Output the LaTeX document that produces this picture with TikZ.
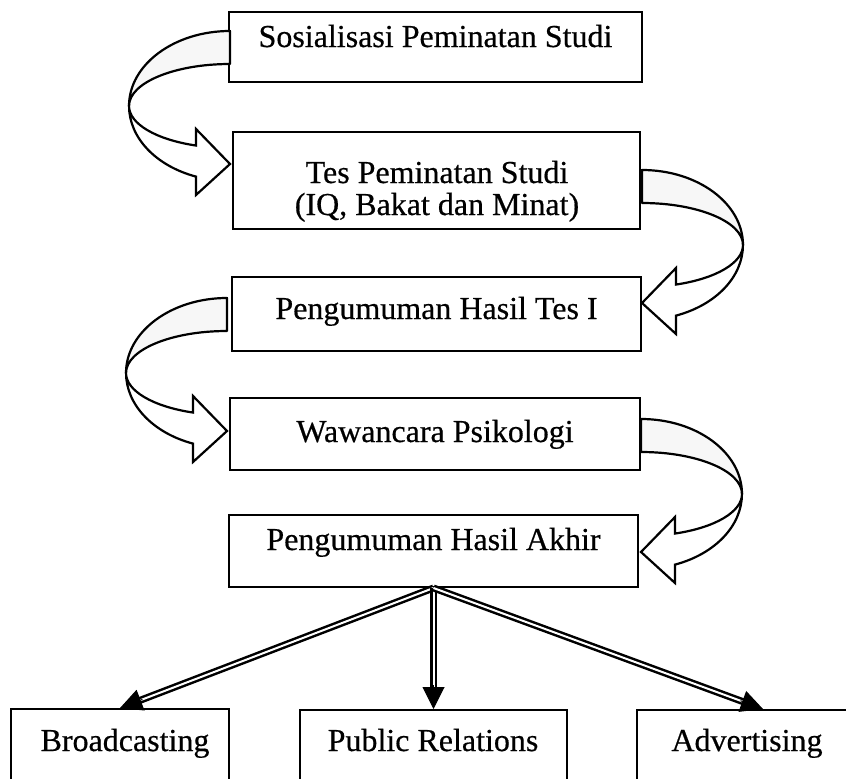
\documentclass[tikz,border=0pt]{standalone}
\usepackage{fontspec}
\setmainfont{Liberation Serif}[FakeBold=0.5]
\usetikzlibrary{arrows.meta,calc}
\begin{document}
\begin{tikzpicture}[x=1pt,y=-1pt,
  box/.style={draw, line width=2pt, inner sep=0pt},
  txt/.style={font=\fontsize{32}{34}\selectfont, inner sep=0pt, anchor=base},
  back/.style={fill=black!3, draw, line width=2.2pt, line join=round},
  front/.style={fill=white, draw, line width=2.2pt, line join=miter},
  shaft/.style={line width=2.5pt, double distance=2pt, double=white},
  headtip/.style={-{Triangle[length=22pt,width=22pt]}, line width=1pt},
  curvedarrow/.pic={
    \path[back] (0,-133) arc[start angle=-90,end angle=-180,x radius=101,y radius=75]
       arc[start angle=180,end angle=270,x radius=101,y radius=42] -- cycle;
    \path[front] (-101,-58) arc[start angle=180,end angle=109.7,x radius=101,y radius=42]
       -- (-34,-35) -- (0,0) -- (-34,31) -- (-34,12.6)
       arc[start angle=109.7,end angle=180,x radius=101,y radius=75] -- cycle;
  }
]
\useasboundingbox (0,0) rectangle (846,779);
\clip (0,0) rectangle (846,779);

% boxes
\node[box, minimum width=413, minimum height=70] (b1) at (435.5,47) {};
\node[box, minimum width=407, minimum height=97] (b2) at (436.5,180.5) {};
\node[box, minimum width=409, minimum height=74] (b3) at (436.5,314) {};
\node[box, minimum width=410, minimum height=72] (b4) at (435,434) {};
\node[box, minimum width=409, minimum height=72] (b5) at (433.5,551) {};
\node[box, minimum width=218, minimum height=120] (bb) at (120,769) {};
\node[box, minimum width=267, minimum height=120] (pr) at (433.5,770) {};
\node[box, minimum width=252, minimum height=120] (ad) at (763,770) {};

% texts
\node[txt] (t1) at (435.5,47) {Sosialisasi Peminatan Studi};
\node[txt] (t2a) at (437,183) {Tes Peminatan Studi};
\node[txt] (t2b) at (437,215) {(IQ, Bakat dan Minat)};
\node[txt] (t3) at (436.5,319) {Pengumuman Hasil Tes I};
\node[txt] (t4) at (435,442) {Wawancara Psikologi};
\node[txt] (t5) at (433.5,550) {Pengumuman Hasil Akhir};
\node[txt] (t6) at (125,751) {Broadcasting};
\node[txt] (t7) at (433,751) {Public Relations};
\node[txt] (t8) at (747,751) {Advertising};

% curved block arrows
\pic at ($(b2.north west)+(-2,33)$) {curvedarrow};
\pic at ($(b4.north west)+(-2,34)$) {curvedarrow};
\pic[xscale=-1] at ($(b3.north east)+(0,27)$) {curvedarrow};
\pic[xscale=-1] at ($(b5.north east)+(2,38)$) {curvedarrow};

% branching arrows
\foreach \t in {bb,pr,ad}{
  \draw[shaft] (b5.south) -- ($(\t.north)!20pt!(b5.south)$);
  \draw[headtip] ($(\t.north)!24pt!(b5.south)$) -- (\t.north);
}
\end{tikzpicture}
\end{document}
